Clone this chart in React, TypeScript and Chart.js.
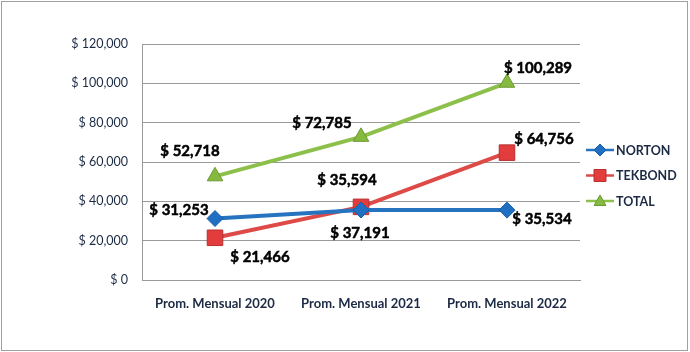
import React, { useEffect, useRef } from 'react';
import { Chart, registerables } from 'chart.js';

Chart.register(...registerables);

const categories = ['Prom. Mensual 2020', 'Prom. Mensual 2021', 'Prom. Mensual 2022'];
const seriesNames = ['NORTON', 'TEKBOND', 'TOTAL'];
const norton = [31253, 35594, 35534];
const tekbond = [21466, 37191, 64756];
const total = [52718, 72785, 100289];
const yMin = 0;
const yMax = 120000;
const yStep = 20000;

const FONT = 'Lato, "Open Sans", sans-serif';
const TEXT_DARK = '#1c2a44';

const fmt = (v: number) => '$ ' + Math.round(v).toLocaleString('en-US');

function drawMarker(ctx: CanvasRenderingContext2D, style: string, x: number, y: number, r: number, fill: string, stroke: string) {
  ctx.save();
  ctx.beginPath();
  if (style === 'rectRot') {
    ctx.moveTo(x, y - r);
    ctx.lineTo(x + r, y);
    ctx.lineTo(x, y + r);
    ctx.lineTo(x - r, y);
    ctx.closePath();
  } else if (style === 'rect') {
    ctx.rect(x - r, y - r, 2 * r, 2 * r);
  } else {
    ctx.moveTo(x, y - r);
    ctx.lineTo(x + r, y + r * 0.75);
    ctx.lineTo(x - r, y + r * 0.75);
    ctx.closePath();
  }
  ctx.fillStyle = fill;
  ctx.fill();
  ctx.strokeStyle = stroke;
  ctx.lineWidth = 1;
  ctx.stroke();
  ctx.restore();
}

const extrasPlugin = {
  id: 'extras',
  beforeDraw(chart: any) {
    const ctx = chart.ctx;
    ctx.save();
    ctx.fillStyle = '#ffffff';
    ctx.fillRect(0, 0, chart.width, chart.height);
    ctx.strokeStyle = '#a0a0a0';
    ctx.lineWidth = 1;
    ctx.strokeRect(1.5, 1.5, chart.width - 4, chart.height - 3);
    ctx.restore();
  },
  afterDatasetsDraw(chart: any, _args: any, opts: any) {
    const ctx = chart.ctx;
    ctx.save();
    ctx.font = 'bold 15px ' + FONT;
    ctx.fillStyle = '#000';
    ctx.strokeStyle = '#000';
    ctx.lineWidth = 0.5;
    ctx.textAlign = 'center';
    ctx.textBaseline = 'middle';
    chart.data.datasets.forEach((ds: any, di: number) => {
      const meta = chart.getDatasetMeta(di);
      meta.data.forEach((pt: any, i: number) => {
        const off = opts.offsets[di][i];
        const t = fmt(ds.data[i]);
        ctx.fillText(t, pt.x + off[0], pt.y + off[1]);
        ctx.strokeText(t, pt.x + off[0], pt.y + off[1]);
      });
    });
    // legend
    const lx = opts.legendX;
    chart.data.datasets.forEach((ds: any, di: number) => {
      const y = opts.legendY[di];
      ctx.strokeStyle = ds.borderColor;
      ctx.lineWidth = 2.5;
      ctx.beginPath();
      ctx.moveTo(lx, y);
      ctx.lineTo(lx + 28, y);
      ctx.stroke();
      drawMarker(ctx, ds.pointStyle, lx + 14, y, 6, ds.pointBackgroundColor, ds.pointBorderColor);
      ctx.font = 'bold 12.5px ' + FONT;
      ctx.fillStyle = TEXT_DARK;
      ctx.textAlign = 'left';
      ctx.fillText(ds.label, lx + 30, y + 0.5);
    });
    ctx.restore();
  },
};

export default function App() {
  const ref = useRef<HTMLCanvasElement | null>(null);

  useEffect(() => {
    document.body.style.margin = '0';
    const canvas = ref.current!;
    const chart = new Chart(canvas, {
      type: 'line',
      data: {
        labels: categories,
        datasets: [
          {
            label: seriesNames[0],
            data: norton,
            borderColor: '#2673c0',
            borderWidth: 4,
            pointStyle: 'rectRot',
            pointRadius: 8,
            pointBackgroundColor: '#1f6fc2',
            pointBorderColor: '#1a5ea6',
            pointBorderWidth: 1,
            tension: 0,
          },
          {
            label: seriesNames[1],
            data: tekbond,
            borderColor: '#de4a48',
            borderWidth: 4,
            pointStyle: 'rect',
            pointRadius: 11,
            pointBackgroundColor: '#e23c3c',
            pointBorderColor: '#b83030',
            pointBorderWidth: 1,
            tension: 0,
          },
          {
            label: seriesNames[2],
            data: total,
            borderColor: '#8cc04a',
            borderWidth: 4,
            pointStyle: 'triangle',
            pointRadius: 9,
            pointBackgroundColor: '#86b940',
            pointBorderColor: '#6e9a34',
            pointBorderWidth: 1,
            tension: 0,
          },
        ],
      },
      options: {
        responsive: false,
        animation: false,
        devicePixelRatio: 1,
        layout: { padding: { top: 44, right: 110, left: 0, bottom: 0 } },
        plugins: {
          legend: { display: false },
          tooltip: { enabled: false },
          extras: {
            offsets: [
              [[-36, -8], [-14, -30], [35, 9]],
              [[45, 19], [-1, 26], [37, -13]],
              [[-25, -25], [-39, -14], [31, -15]],
            ],
            legendX: 586,
            legendY: [150, 175.5, 201],
          },
        } as any,
        scales: {
          x: {
            offset: true,
            grid: { display: false, drawTicks: false },
            border: { display: true, color: '#999999', width: 1 },
            ticks: {
              padding: 16,
              color: TEXT_DARK,
              font: { family: FONT, size: 13, weight: 'bold' },
              maxRotation: 0,
            },
            afterFit: (s: any) => { s.height = 72; },
          },
          y: {
            min: yMin,
            max: yMax,
            grid: { color: '#9a9a9a', lineWidth: 1, drawTicks: false },
            border: { display: true, color: '#999999', width: 1 },
            ticks: {
              stepSize: yStep,
              padding: 14,
              color: TEXT_DARK,
              font: { family: FONT, size: 12.5 },
              callback: (v: any) => fmt(Number(v)),
            },
            afterFit: (s: any) => { s.width = 142; },
          },
        },
      },
      plugins: [extrasPlugin],
    } as any);
    return () => chart.destroy();
  }, []);

  return (
    <div style={{ position: 'fixed', left: 0, top: 0, width: 690, height: 352, background: '#fff' }}>
      <canvas ref={ref} width={690} height={352} style={{ width: 690, height: 352, display: 'block' }} />
    </div>
  );
}
